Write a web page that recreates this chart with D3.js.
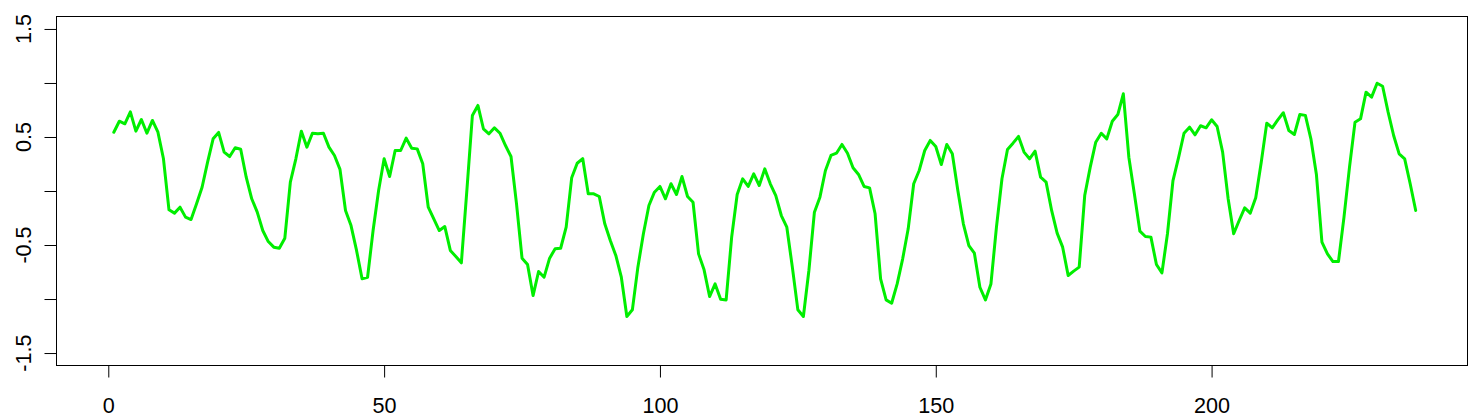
<!DOCTYPE html>
<html>
<head>
<meta charset="utf-8">
<script src="https://cdn.jsdelivr.net/npm/d3@7"></script>
<style>
  html, body { margin: 0; padding: 0; background: #fff; }
  svg { display: block; }
  text { font-family: "Liberation Sans", Arial, Helvetica, sans-serif; }
</style>
</head>
<body>
<svg id="chart" width="1475" height="420"></svg>
<script>
// ---- data ----
const values = [
  0.544, 0.646, 0.622, 0.733, 0.554, 0.662, 0.535, 0.653, 0.544, 0.298,
  -0.174, -0.205, -0.15, -0.242, -0.264, -0.119, 0.035, 0.267, 0.483, 0.542,
  0.36, 0.319, 0.4, 0.387, 0.128, -0.072, -0.196, -0.366, -0.468, -0.52,
  -0.53, -0.437, 0.082, 0.298, 0.554, 0.406, 0.535, 0.529, 0.535, 0.406,
  0.329, 0.2, -0.18, -0.32, -0.55, -0.813, -0.798, -0.366, 0.005, 0.298,
  0.134, 0.375, 0.375, 0.489, 0.396, 0.39, 0.252, -0.15, -0.258, -0.366,
  -0.329, -0.55, -0.606, -0.665, 0.005, 0.699, 0.792, 0.576, 0.529, 0.585,
  0.535, 0.421, 0.319, -0.119, -0.622, -0.68, -0.968, -0.745, -0.798, -0.622,
  -0.535, -0.53, -0.335, 0.122, 0.257, 0.3, -0.026, -0.026, -0.051, -0.304,
  -0.458, -0.597, -0.798, -1.162, -1.1, -0.705, -0.396, -0.134, -0.011, 0.042,
  -0.072, 0.067, -0.032, 0.134, -0.051, -0.104, -0.582, -0.73, -0.977, -0.86,
  -1.002, -1.008, -0.427, -0.032, 0.113, 0.042, 0.159, 0.051, 0.205, 0.067,
  -0.042, -0.227, -0.335, -0.705, -1.1, -1.162, -0.736, -0.196, -0.057, 0.19,
  0.329, 0.35, 0.431, 0.35, 0.215, 0.153, 0.042, 0.029, -0.211, -0.813,
  -1.008, -1.039, -0.86, -0.628, -0.35, 0.067, 0.19, 0.375, 0.468, 0.412,
  0.245, 0.431, 0.344, 0.005, -0.304, -0.505, -0.576, -0.891, -1.008, -0.86,
  -0.335, 0.113, 0.384, 0.443, 0.505, 0.36, 0.298, 0.369, 0.128, 0.082,
  -0.18, -0.39, -0.52, -0.782, -0.742, -0.705, -0.042, 0.221, 0.452, 0.535,
  0.483, 0.646, 0.708, 0.9, 0.313, -0.026, -0.372, -0.421, -0.427, -0.68,
  -0.758, -0.396, 0.097, 0.307, 0.535, 0.591, 0.52, 0.604, 0.585, 0.659,
  0.597, 0.36, -0.072, -0.396, -0.273, -0.156, -0.205, -0.063, 0.267, 0.628,
  0.585, 0.659, 0.724, 0.56, 0.523, 0.708, 0.7, 0.483, 0.153, -0.474,
  -0.582, -0.653, -0.653, -0.242, 0.221, 0.637, 0.668, 0.915, 0.869, 0.998,
  0.97, 0.73, 0.514, 0.344, 0.298, 0.067, -0.18
];
const xTicks = [0, 50, 100, 150, 200];
const yTicks = [-1.5, -1, -0.5, 0, 0.5, 1, 1.5];
const yTickLabels = ["-1.5", "", "-0.5", "", "0.5", "", "1.5"];
const xLimits = [0, 237];
const yLimits = [-1.5, 1.5];

// ---- layout ----
const box = { left: 56, right: 1468, top: 16, bottom: 366 };
const fontSize = 21.6;

const svg = d3.select("#chart");
svg.append("rect").attr("width", 1475).attr("height", 420).attr("fill", "#fff");

// R-style 4% axis expansion
const xpad = (xLimits[1] - xLimits[0]) * 0.04;
const ypad = (yLimits[1] - yLimits[0]) * 0.04;
const x = d3.scaleLinear().domain([xLimits[0] - xpad, xLimits[1] + xpad]).range([box.left, box.right]);
const y = d3.scaleLinear().domain([yLimits[0] - ypad, yLimits[1] + ypad]).range([box.bottom, box.top]);

const points = values.map((v, i) => ({ x: i + 1, y: v }));

// series line
const line = d3.line().x(d => x(d.x)).y(d => y(d.y));
svg.append("path")
  .datum(points)
  .attr("d", line)
  .attr("fill", "none")
  .attr("stroke", "#00ee00")
  .attr("stroke-width", 3)
  .attr("stroke-linejoin", "round")
  .attr("stroke-linecap", "round");

// box
svg.append("rect")
  .attr("x", box.left + 0.5).attr("y", box.top + 0.5)
  .attr("width", box.right - box.left - 1).attr("height", box.bottom - box.top - 1)
  .attr("fill", "none").attr("stroke", "#000").attr("stroke-width", 1);

// x axis
const xAxis = d3.axisBottom(x).tickValues(xTicks).tickSize(12).tickPadding(20).tickFormat(d3.format("d"));
const gx = svg.append("g").attr("transform", `translate(0,${box.bottom - 0.5})`).call(xAxis);
gx.select(".domain").remove();
gx.append("line").attr("x1", x(xTicks[0])).attr("x2", x(xTicks[xTicks.length - 1]))
  .attr("y1", 0).attr("y2", 0).attr("stroke", "#000");
gx.selectAll(".tick line").attr("stroke", "#000");
gx.selectAll(".tick text").attr("fill", "#000")
  .style("font-size", fontSize + "px")
  .style("font-family", '"Liberation Sans", Arial, Helvetica, sans-serif');

// y axis
const yAxis = d3.axisLeft(y).tickValues(yTicks).tickSize(12).tickFormat("");
const gy = svg.append("g").attr("transform", `translate(${box.left + 0.5},0)`).call(yAxis);
gy.select(".domain").remove();
gy.append("line").attr("y1", y(yTicks[0])).attr("y2", y(yTicks[yTicks.length - 1]))
  .attr("x1", 0).attr("x2", 0).attr("stroke", "#000");
gy.selectAll(".tick line").attr("stroke", "#000");

svg.append("g").selectAll("text")
  .data(yTicks.map((t, i) => ({ t, label: yTickLabels[i] })).filter(d => d.label !== ""))
  .join("text")
  .attr("transform", d => `translate(31,${y(d.t)}) rotate(-90)`)
  .attr("text-anchor", "middle")
  .attr("fill", "#000")
  .style("font-size", fontSize + "px")
  .text(d => d.label);
</script>
</body>
</html>
